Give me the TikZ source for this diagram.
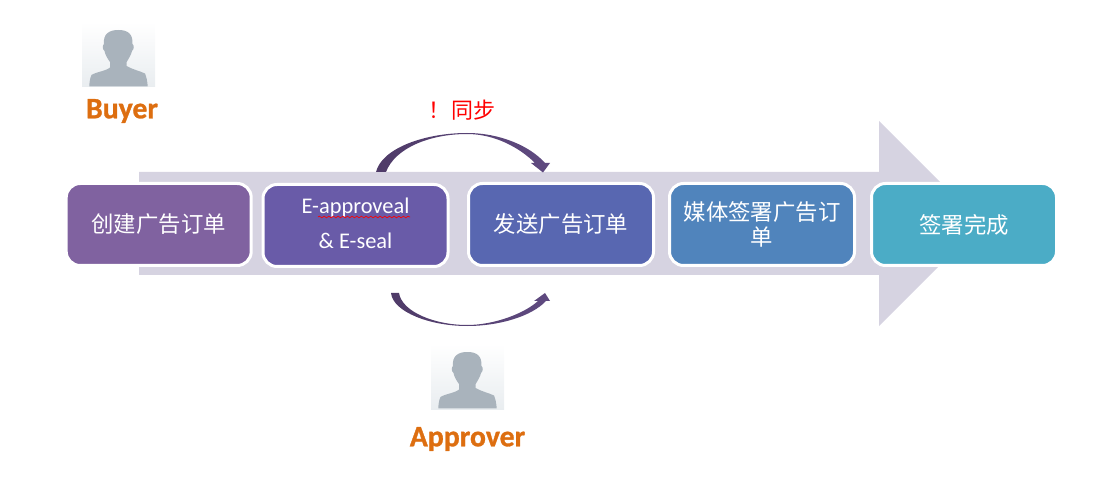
\documentclass[tikz,border=0pt]{standalone}
\usepackage{fontspec}
\usetikzlibrary{decorations.pathmorphing}
\newfontfamily\cjkfont{Noto Sans CJK SC}
\newfontfamily\latinfont{Carlito}
\newfontfamily\rolefont[BoldFeatures={FakeBold=1}]{Carlito}
\definecolor{arrowbg}{HTML}{D6D3E1}
\definecolor{curvedark}{HTML}{4F3B68}
\definecolor{curveend}{HTML}{5F4A80}
\definecolor{curvemid}{HTML}{C9C3D6}
\definecolor{personbg}{HTML}{E9EDF0}
\definecolor{persongray}{HTML}{A9B3BC}
\definecolor{rolecolor}{HTML}{DD6E10}
\tikzset{
    stepbox/.style={draw=white, line width=2.25pt, rounded corners=10.5pt, minimum width=138.75pt,
        minimum height=61.5pt, inner sep=0pt, align=center, text=white, font=\cjkfont\fontsize{16.8}{18.75}\selectfont},
    eapprovetext/.style={text=white, font=\latinfont\fontsize{16.8}{19}\selectfont},
    rolelabel/.style={text=rolecolor, font=\rolefont\bfseries\fontsize{22.3}{26}\selectfont},
    person/.pic={
        \shade[top color=white, bottom color=personbg] (0,0) rectangle (73,65);
        \fill[persongray] (7.3,64.3) .. controls (7.5,60) and (8,56) .. (9.5,53)
            .. controls (14,50) and (24,49) .. (28,45.5) -- (28,40)
            .. controls (25,36) and (23,32) .. (22.5,29) .. controls (20,27) and (20.5,23) .. (22,22)
            .. controls (21,12) and (27,8) .. (36.3,8) .. controls (46,8) and (51,12) .. (50.5,22)
            .. controls (52,23) and (52.5,27) .. (50,29) .. controls (49.5,32) and (47,36) .. (44.7,40) -- (44.7,44)
            .. controls (49,47) and (58,49) .. (63,51.5) .. controls (64.5,55) and (65.5,60) .. (65.7,64.3) -- cycle;
    }
}
\begin{document}
\begin{tikzpicture}[x=0.75pt, y=-0.75pt]
    \path[use as bounding box] (0,0) rectangle (1097,499);

    % big arrow behind the steps
    \fill[arrowbg] (139,172) -- (879,172) -- (879,121) -- (981.5,223.5) -- (879,326) -- (879,275) -- (139,275) -- cycle;

    \node[stepbox, fill={rgb,255:red,128;green,98;blue,160}] (create) at (158.7,224.5) {创建广告订单};
    \node[stepbox, fill={rgb,255:red,105;green,91;blue,168}] (approve) at (355.5,225.5) {};
    \node[stepbox, fill={rgb,255:red,88;green,103;blue,177}] (send) at (561,224.5) {发送广告订单};
    \node[stepbox, fill={rgb,255:red,80;green,132;blue,188}] (sign) at (762,224.5) {媒体签署广告订\\单};
    \node[stepbox, fill={rgb,255:red,75;green,172;blue,198}] (done) at (964,224.5) {签署完成};

    \node[eapprovetext] (eapprove) at (355.5,207.5) {E-approveal};
    \node[eapprovetext] (eseal) at (355.5,241) {\& E-seal};
    \draw[red, line width=0.5pt, decorate, decoration={snake, segment length=3.5pt, amplitude=0.6pt}] (318,217) -- (410,217);

    % curved arrows
    \shade[left color=curvedark, middle color=curvemid, right color=curveend]
        (376,172) .. controls (382,148) and (425,133) .. (467,133)
        .. controls (500,133) and (530,146) .. (545,163) -- (550,163) -- (543,172.5) -- (531,163) -- (535,163)
        .. controls (520,148) and (495,134) .. (467,134)
        .. controls (430,134) and (395,148) .. (386,172) -- cycle;
    \shade[left color=curvedark, middle color=curvemid, right color=curveend]
        (391,293) .. controls (393,312) and (430,326) .. (467,326)
        .. controls (500,326) and (532,316) .. (546,301) -- (550,301) -- (545,293) -- (534,301) -- (538,301)
        .. controls (525,313) and (495,325) .. (467,325)
        .. controls (435,325) and (402,312) .. (399,293) -- cycle;

    \node[text=red, font=\cjkfont\fontsize{16.5}{19}\selectfont] (sync) at (462,110) {！ \kern-3.6pt同步};

    \pic at (82,22) {person};
    \pic at (431,344) {person};
    \node[rolelabel] (buyer) at (122,111) {Buyer};
    \node[rolelabel] (approver) at (467.5,439) {Approver};
\end{tikzpicture}
\end{document}
